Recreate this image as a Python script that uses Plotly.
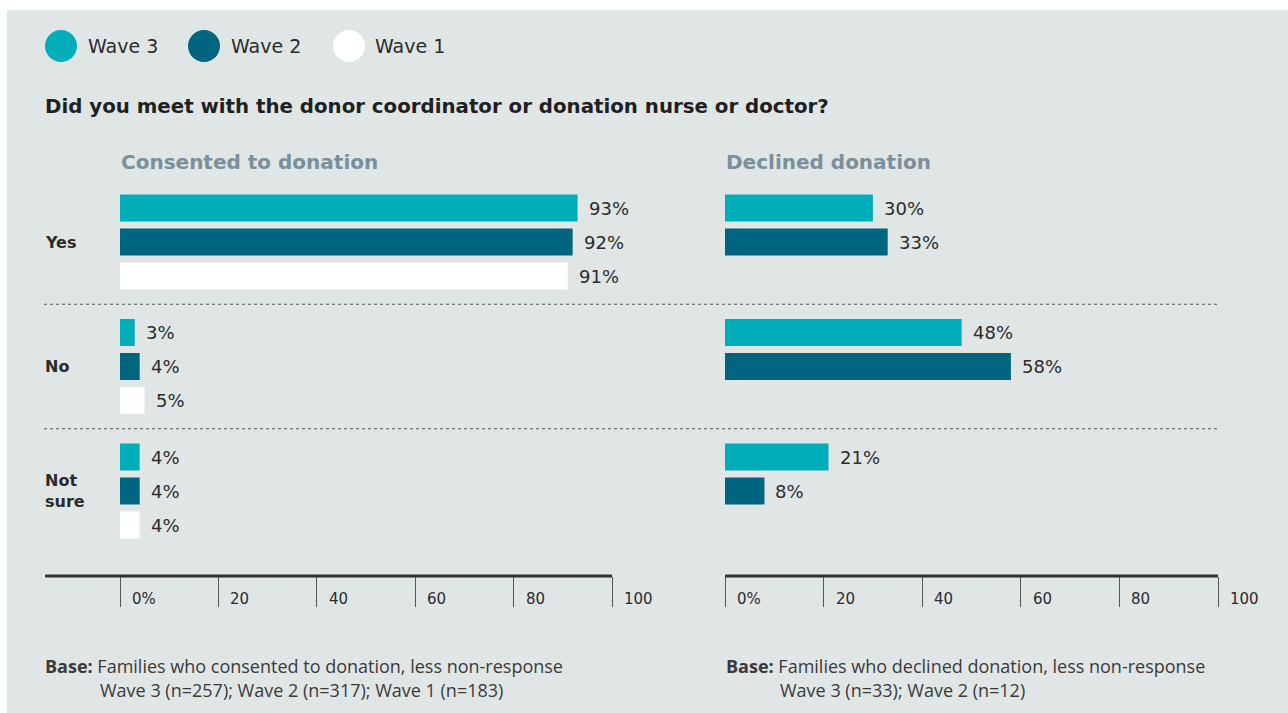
import plotly.graph_objects as go

W, H = 1288, 713

waves = ["Wave 3", "Wave 2", "Wave 1"]
wave_colors = ["#00aeb9", "#006580", "#ffffff"]
answers = ["Yes", "No", "Not<br>sure"]

consented_w3 = [93, 3, 4]
consented_w2 = [92, 4, 4]
consented_w1 = [91, 5, 4]
declined_w3 = [30, 48, 21]
declined_w2 = [33, 58, 8]
declined_w1 = [None, None, None]

tick_values = [0, 20, 40, 60, 80, 100]
tick_labels = ["0%", "20", "40", "60", "80", "100"]

title = "Did you meet with the donor coordinator or donation nurse or doctor?"
panel_titles = ["Consented to donation", "Declined donation"]
base_notes = [
    ("Families who consented to donation, less non-response",
     "Wave 3 (n=257); Wave 2 (n=317); Wave 1 (n=183)"),
    ("Families who declined donation, less non-response",
     "Wave 3 (n=33); Wave 2 (n=12)"),
]

HEAD_FONT = "DejaVu Sans"
NOTE_FONT = "Open Sans"
BG = "#e0e6e6"
TEXT = "#2b2b2b"
PAD = 2  # annotation text sits a couple of pixels inside its anchor


def px(x):
    return x / W


def py(y):
    return 1 - y / H


# vertical layout in category units (one unit = one answer group)
GROUP_PX = 124.5
BAR_STEP = 34 / GROUP_PX
BAR_W = 27 / GROUP_PX
Y_TOP_PX, Y_BOT_PX, FIRST_CENTER_PX = 180, 576, 242
y_range = [(Y_BOT_PX - FIRST_CENTER_PX) / GROUP_PX, (Y_TOP_PX - FIRST_CENTER_PX) / GROUP_PX]

panels = [
    ("x", [consented_w3, consented_w2, consented_w1], (120, 612)),
    ("x2", [declined_w3, declined_w2, declined_w1], (725, 1218)),
]

fig = go.Figure()
annotations = []
shapes = []

# panel background
shapes.append(dict(type="rect", xref="paper", yref="paper", x0=px(7), x1=1, y0=0, y1=py(10),
                   fillcolor=BG, line_width=0, layer="below"))

for axis, series, _ in panels:
    for w, (name, color, vals) in enumerate(zip(waves, wave_colors, series)):
        ys = [g + (w - 1) * BAR_STEP for g in range(len(answers))]
        fig.add_trace(go.Bar(
            x=vals, y=ys, orientation="h", width=BAR_W, name=name,
            marker=dict(color=color, line_width=0), xaxis=axis, yaxis="y",
            showlegend=False, hoverinfo="skip",
        ))
        for v, yv in zip(vals, ys):
            if v is None:
                continue
            annotations.append(dict(
                x=v, y=yv, xref=axis, yref="y", text=f"{v}%", showarrow=False,
                xanchor="left", yanchor="middle", xshift=9,
                font=dict(family=HEAD_FONT, size=18, color=TEXT),
            ))
    # tick labels sit to the right of each tick line
    for tv, tl in zip(tick_values, tick_labels):
        annotations.append(dict(
            x=tv, y=py(599), xref=axis, yref="paper", text=tl, showarrow=False,
            xanchor="left", yanchor="middle", xshift=10,
            font=dict(family=HEAD_FONT, size=15, color=TEXT),
        ))

# heavy baselines
shapes.append(dict(type="line", xref="paper", yref="paper", x0=px(45), x1=px(612),
                   y0=py(576), y1=py(576), line=dict(color="#333333", width=3)))
shapes.append(dict(type="line", xref="paper", yref="paper", x0=px(725), x1=px(1218),
                   y0=py(576), y1=py(576), line=dict(color="#333333", width=3)))

# dotted separators between answer groups
for g in range(len(answers) - 1):
    shapes.append(dict(type="line", xref="paper", yref="y", x0=px(44), x1=px(1218),
                       y0=g + 0.5, y1=g + 0.5, line=dict(color="#555555", width=1, dash="dot")))

# answer labels
for g, a in enumerate(answers):
    annotations.append(dict(
        x=px(45 - PAD), y=g, xref="paper", yref="y", text=f"<b>{a}</b>", showarrow=False,
        xanchor="left", yanchor="middle", align="left",
        font=dict(family=HEAD_FONT, size=16, color=TEXT),
    ))

# legend
legend_pos = [(61, 88), (204, 231), (349, 375)]
for (cx, tx), name, color in zip(legend_pos, waves, wave_colors):
    shapes.append(dict(type="circle", xref="paper", yref="paper",
                       x0=px(cx - 16), x1=px(cx + 16), y0=py(62), y1=py(30),
                       fillcolor=color, line_width=0))
    annotations.append(dict(
        x=px(tx - PAD), y=py(46), xref="paper", yref="paper", text=name, showarrow=False,
        xanchor="left", yanchor="middle",
        font=dict(family=HEAD_FONT, size=19, color=TEXT),
    ))

# title and panel headers
annotations.append(dict(
    x=px(45 - PAD), y=py(106), xref="paper", yref="paper", text=f"<b>{title}</b>",
    showarrow=False, xanchor="left", yanchor="middle",
    font=dict(family=HEAD_FONT, size=19.8, color="#1f1f1f"),
))
for (_, _, (x0, _)), t in zip(panels, panel_titles):
    annotations.append(dict(
        x=px(x0 + 1 - PAD), y=py(162), xref="paper", yref="paper", text=f"<b>{t}</b>",
        showarrow=False, xanchor="left", yanchor="middle",
        font=dict(family=HEAD_FONT, size=20, color="#7a8f99"),
    ))

# base notes
for (x0, x1), (l1, l2) in zip([(45, 100), (726, 780)], base_notes):
    annotations.append(dict(
        x=px(x0 - PAD), y=py(666), xref="paper", yref="paper", text=f"<b>Base:</b> {l1}",
        showarrow=False, xanchor="left", yanchor="middle",
        font=dict(family=NOTE_FONT, size=18, color="#3a3a3a"),
    ))
    annotations.append(dict(
        x=px(x1 - PAD), y=py(690), xref="paper", yref="paper", text=l2,
        showarrow=False, xanchor="left", yanchor="middle",
        font=dict(family=NOTE_FONT, size=18, color="#3a3a3a"),
    ))

axis_common = dict(range=[0, 100], tickvals=tick_values, showticklabels=False,
                   ticks="outside", ticklen=30, tickwidth=1, tickcolor="#555555",
                   showgrid=False, zeroline=False, showline=False, anchor="y",
                   fixedrange=True)

fig.update_layout(
    width=W, height=H,
    margin=dict(l=0, r=0, t=0, b=0),
    paper_bgcolor="#ffffff", plot_bgcolor="rgba(0,0,0,0)",
    barmode="overlay",
    xaxis=dict(domain=[px(120), px(612)], **axis_common),
    xaxis2=dict(domain=[px(725), px(1218)], **axis_common),
    yaxis=dict(domain=[py(Y_BOT_PX), py(Y_TOP_PX)], range=y_range, visible=False,
               fixedrange=True),
    shapes=shapes,
    annotations=annotations,
    showlegend=False,
)

fig.write_html("out.html")
